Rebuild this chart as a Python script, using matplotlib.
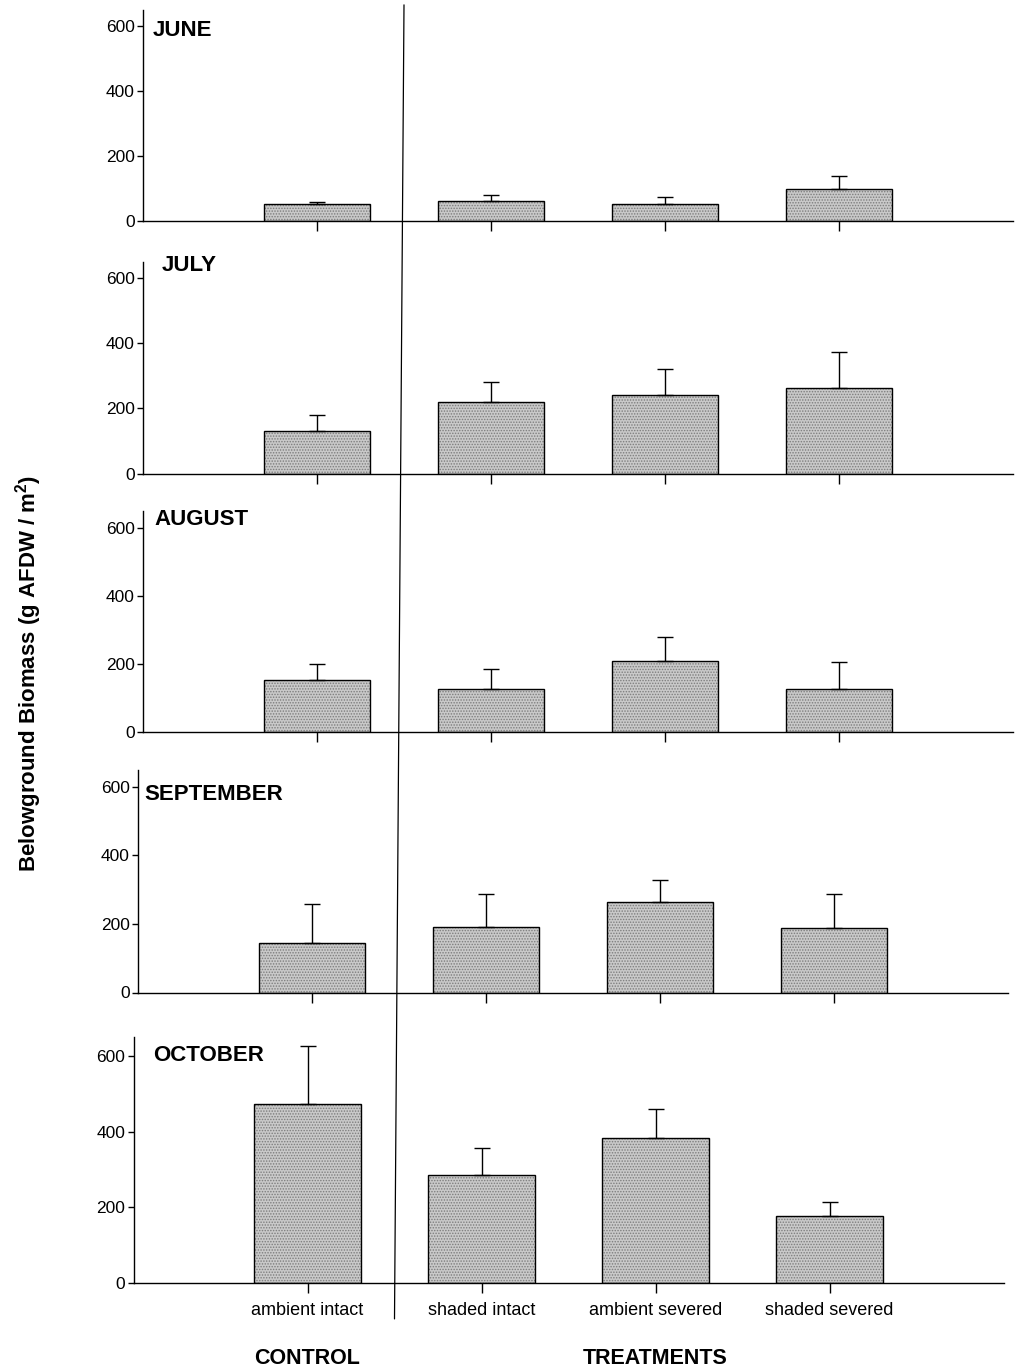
import matplotlib.pyplot as plt
import matplotlib as mpl
from matplotlib.patches import ConnectionPatch
from matplotlib.transforms import blended_transform_factory
import numpy as np

mpl.rcParams['font.family'] = ['Liberation Sans', 'DejaVu Sans']
mpl.rcParams['mathtext.fontset'] = 'custom'
mpl.rcParams['mathtext.rm'] = 'Liberation Sans'
mpl.rcParams['mathtext.bf'] = 'Liberation Sans:bold'
mpl.rcParams['hatch.linewidth'] = 0.7

treatments = ["ambient intact", "shaded intact", "ambient severed", "shaded severed"]
months = ["JUNE", "JULY", "AUGUST", "SEPTEMBER", "OCTOBER"]

# mean belowground biomass and upper SE, g AFDW / m2
june_mean = [52, 62, 52, 98]
june_se = [6, 18, 22, 40]
july_mean = [132, 221, 241, 263]
july_se = [47, 61, 80, 109]
august_mean = [152, 127, 208, 127]
august_se = [48, 59, 73, 78]
september_mean = [143, 191, 263, 189]
september_se = [115, 96, 64, 99]
october_mean = [473, 287, 383, 176]
october_se = [155, 70, 76, 39]

means = [june_mean, july_mean, august_mean, september_mean, october_mean]
errs = [june_se, july_se, august_se, september_se, october_se]

W, H = 1015, 1368
fig = plt.figure(figsize=(W / 100, H / 100), dpi=100)

# panel placement in pixels: left spine, zero line, pixels per g
layout = [(143, 221, 0.325), (143, 473.5, 0.3256), (143, 732, 0.3394),
          (138, 992.5, 0.3427), (133.5, 1283, 0.378)]
label_xy = [(0.057, 585), (0.11, 640), (0.066, 625), (0.035, 578), (0.11, 602)]

x = np.arange(1, 5)
axes = []
for i, (left, zero, scale) in enumerate(layout):
    h = 650 * scale
    ax = fig.add_axes([left / W, 1 - zero / H, 870 / W, h / H])
    ax.bar(x, means[i], width=0.61, color='#c9c9c9', hatch='......',
           edgecolor='#7d7d7d', linewidth=0, zorder=2)
    ax.bar(x, means[i], width=0.61, facecolor='none', edgecolor='black',
           linewidth=1.0, zorder=3)
    ax.errorbar(x, means[i], yerr=[np.zeros(4), errs[i]], fmt='none',
                ecolor='black', elinewidth=1.0, capsize=5.5, capthick=1.0,
                zorder=4)
    ax.set_xlim(0, 5)
    ax.set_ylim(0, 650)
    ax.set_yticks([0, 200, 400, 600])
    ax.set_xticks(x)
    ax.spines['top'].set_visible(False)
    ax.spines['right'].set_visible(False)
    for s in ('left', 'bottom'):
        ax.spines[s].set_linewidth(1.0)
    ax.tick_params(axis='y', direction='out', length=4, width=1.0, pad=2,
                   labelsize=12.5)
    ax.tick_params(axis='x', direction='out', length=7, width=1.0, pad=7,
                   labelsize=13)
    if i < 4:
        ax.set_xticklabels([])
    else:
        ax.set_xticklabels(treatments)
    lx, ly = label_xy[i]
    ax.text(lx, ly, months[i], fontsize=16, fontweight='bold',
            ha='left', va='center')
    axes.append(ax)

# control / treatments divider running through all panels
div = ConnectionPatch(xyA=(1.5, 665), coordsA=axes[0].transData,
                      xyB=(1.5, -95), coordsB=axes[-1].transData,
                      color='black', linewidth=0.9)
fig.add_artist(div)

trans = blended_transform_factory(axes[-1].transData, fig.transFigure)
axes[-1].text(1, 1 - 1359 / H, "CONTROL", transform=trans, fontsize=15.5,
              fontweight='bold', ha='center', va='center')
axes[-1].text(3, 1 - 1359 / H, "TREATMENTS", transform=trans, fontsize=15.5,
              fontweight='bold', ha='center', va='center')

fig.text(29 / W, 1 - 673 / H, r'Belowground Biomass (g AFDW / m$^{\mathbf{2}}$)',
         rotation=90, fontsize=16, fontweight='bold', ha='center', va='center')

plt.savefig('out.png', dpi=100)
